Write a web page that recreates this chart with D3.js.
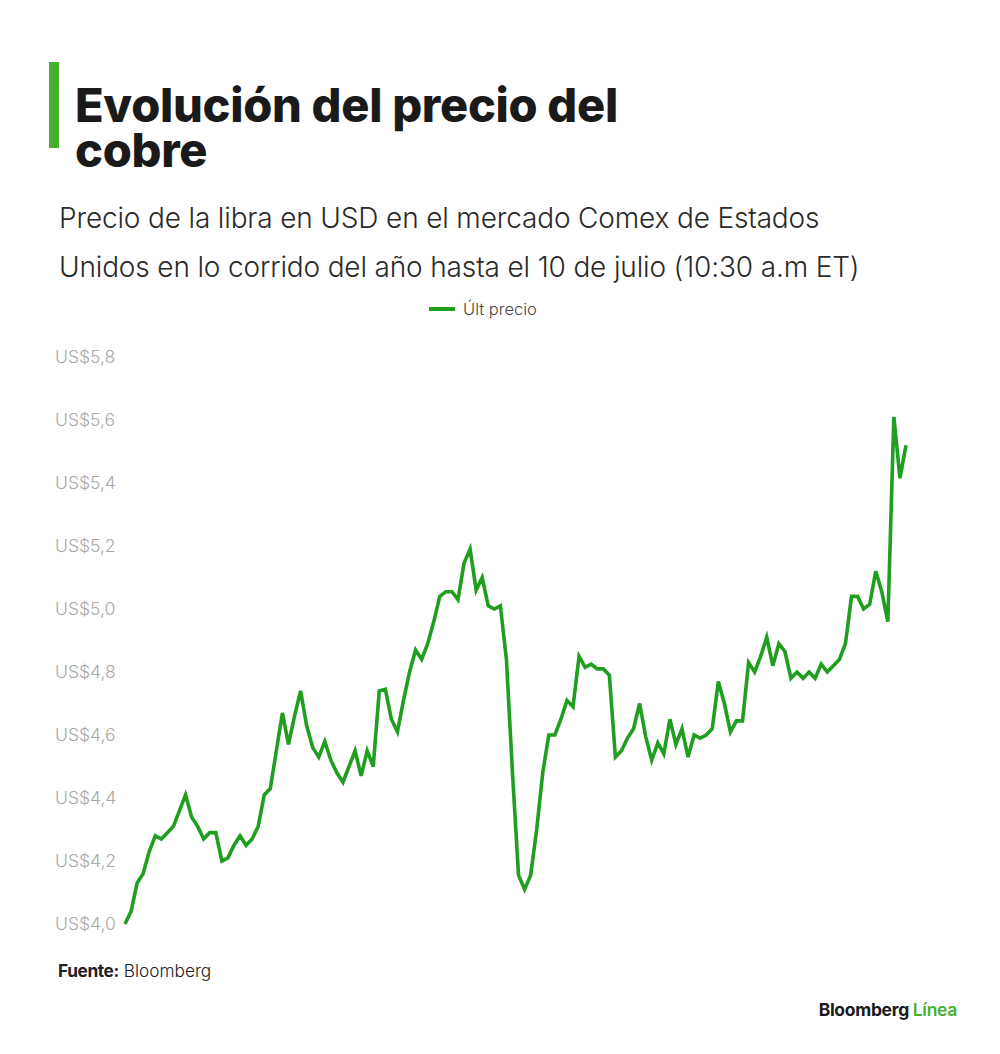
<!DOCTYPE html>
<html>
<head>
<meta charset="utf-8">
<script src="https://cdn.jsdelivr.net/npm/d3@7"></script>
<style>
  body { margin: 0; background: #fff; }
  svg { display: block; }
</style>
</head>
<body>
<svg id="chart" width="1000" height="1054"></svg>
<script>
// ---- Data ----
const title = ["Evolución del precio del", "cobre"];
const subtitle = ["Precio de la libra en USD en el mercado Comex de Estados",
                  "Unidos en lo corrido del año hasta el 10 de julio (10:30 a.m ET)"];
const seriesName = "Últ precio";
const yTicks = [4.0, 4.2, 4.4, 4.6, 4.8, 5.0, 5.2, 5.4, 5.6, 5.8];
// trading-day index 0..129 (2 Jan – 10 Jul), price USD per pound
const prices = [
  4.00, 4.04, 4.13, 4.16, 4.23, 4.28, 4.27, 4.29, 4.31, 4.36,
  4.41, 4.34, 4.31, 4.27, 4.29, 4.29, 4.20, 4.21, 4.25, 4.28,
  4.25, 4.27, 4.31, 4.41, 4.43, 4.55, 4.67, 4.57, 4.66, 4.74,
  4.63, 4.56, 4.53, 4.58, 4.52, 4.48, 4.45, 4.50, 4.55, 4.47,
  4.55, 4.50, 4.74, 4.745, 4.65, 4.61, 4.71, 4.80, 4.87, 4.84,
  4.89, 4.96, 5.04, 5.055, 5.055, 5.03, 5.145, 5.19, 5.06, 5.10,
  5.01, 5.00, 5.01, 4.84, 4.48, 4.155, 4.11, 4.155, 4.30, 4.48,
  4.60, 4.60, 4.65, 4.71, 4.69, 4.85, 4.815, 4.825, 4.81, 4.81,
  4.79, 4.53, 4.55, 4.59, 4.62, 4.70, 4.595, 4.52, 4.575, 4.54,
  4.65, 4.57, 4.62, 4.53, 4.60, 4.59, 4.60, 4.62, 4.77, 4.70,
  4.61, 4.645, 4.645, 4.83, 4.80, 4.85, 4.91, 4.82, 4.89, 4.865,
  4.78, 4.80, 4.78, 4.80, 4.78, 4.825, 4.80, 4.82, 4.84, 4.89,
  5.04, 5.04, 5.00, 5.015, 5.12, 5.055, 4.96, 5.61, 5.415, 5.52
];
const source = ["Fuente:", " Bloomberg"];
const brand = ["Bloomberg ", "Línea"];

// ---- Drawing ----
const svg = d3.select("#chart");
const GREEN = "#1f9e1f";
const ACCENT = "#48b030";
const FONT = "Inter, 'Liberation Sans', sans-serif";

svg.append("rect").attr("x", 49).attr("y", 62).attr("width", 10).attr("height", 86).attr("fill", ACCENT);

title.forEach((t, i) => svg.append("text")
  .attr("x", 75).attr("y", 122 + i * 45)
  .attr("font-family", FONT)
  .attr("font-weight", 800).attr("font-size", 47)
  .attr("letter-spacing", "-0.3px").attr("fill", "#1a1a1a").text(t));

subtitle.forEach((t, i) => svg.append("text")
  .attr("x", 59).attr("y", 228 + i * 49)
  .attr("font-family", FONT)
  .attr("font-weight", 300).attr("font-size", 28)
  .attr("letter-spacing", "-0.15px").attr("fill", "#2a2a2a").text(t));

// legend
const lg = svg.append("g");
lg.append("line").attr("x1", 429).attr("x2", 455).attr("y1", 309).attr("y2", 309)
  .attr("stroke", GREEN).attr("stroke-width", 4);
lg.append("text").attr("x", 463).attr("y", 314.5)
  .attr("font-family", FONT).attr("font-weight", 300)
  .attr("font-size", 16.5).attr("fill", "#444").text(seriesName);

// scales
const x = d3.scaleLinear().domain([0, prices.length - 1]).range([125, 906]);
const y = d3.scaleLinear().domain([4.0, 5.8]).range([924, 357]);

// y axis labels
const fmt = v => "US$" + d3.format(".1f")(v).replace(".", ",");
const yAxis = d3.axisLeft(y).tickValues(yTicks).tickSize(0).tickPadding(0).tickFormat(fmt);
const ya = svg.append("g").attr("transform", "translate(55,0)").call(yAxis);
ya.select(".domain").remove();
ya.selectAll("text")
  .attr("text-anchor", "start").attr("x", 0)
  .attr("font-family", FONT).attr("font-weight", 300)
  .attr("font-size", 17.5).attr("fill", "#a8a8a8");

// line
const line = d3.line().x((d, i) => x(i)).y(d => y(d));
svg.append("path").datum(prices).attr("d", line)
  .attr("fill", "none").attr("stroke", GREEN).attr("stroke-width", 3.6)
  .attr("stroke-linejoin", "miter").attr("stroke-linecap", "butt");

// source
const sr = svg.append("text").attr("x", 58).attr("y", 977)
  .attr("font-family", FONT).attr("font-size", 17.3)
  .attr("fill", "#222");
sr.append("tspan").attr("font-weight", 700).attr("letter-spacing", "-0.4px").text(source[0]);
sr.append("tspan").attr("font-weight", 300).text(source[1]);

// brand
const br = svg.append("text").attr("x", 957).attr("y", 1016).attr("text-anchor", "end")
  .attr("font-family", FONT).attr("font-size", 17.5)
  .attr("font-weight", 700).attr("letter-spacing", "-0.3px");
br.append("tspan").attr("fill", "#1a1a1a").text(brand[0]);
br.append("tspan").attr("fill", ACCENT).attr("font-weight", 600).text(brand[1]);
</script>
</body>
</html>
